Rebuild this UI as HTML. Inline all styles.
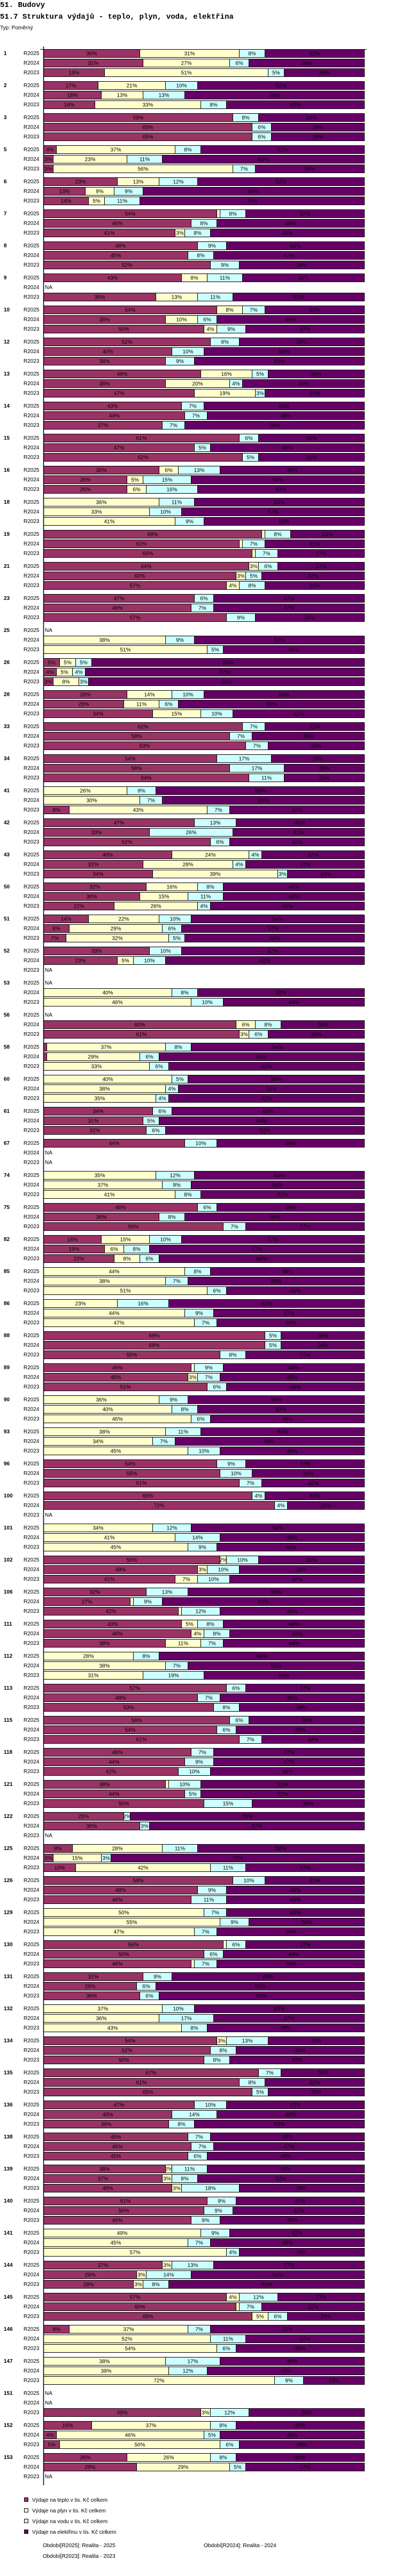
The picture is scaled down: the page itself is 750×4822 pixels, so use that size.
<!DOCTYPE html>
<html><head><meta charset="utf-8">
<style>
html,body{margin:0;padding:0;background:#fff;}
svg{display:block;}
text{font-family:"Liberation Sans",sans-serif;}
</style></head>
<body>
<svg id="chart" xmlns="http://www.w3.org/2000/svg" width="750" height="4822" viewBox="0 0 750 4822">
<text x="0" y="13" style="font-family:'Liberation Mono',monospace;font-weight:bold;font-size:14px">51. Budovy</text>
<text x="0" y="35" style="font-family:'Liberation Mono',monospace;font-weight:bold;font-size:14px">51.7 Struktura výdajů - teplo, plyn, voda, elektřina</text>
<text x="0" y="55" font-size="10">Typ: Poměrný</text>
<g id="bars"></g>
<line x1="81.5" y1="87" x2="81.5" y2="4652" stroke="#000" stroke-width="1.5"/>
<line x1="75" y1="92.5" x2="686" y2="92.5" stroke="#000" stroke-width="1"/>
<g font-size="10">
<rect x="45.5" y="4675.5" width="7" height="7" fill="#993366" stroke="#000"/>
<text x="60" y="4683">Výdaje na teplo v tis. Kč celkem</text>
<rect x="45.5" y="4695.5" width="7" height="7" fill="#FFFFCC" stroke="#000"/>
<text x="60" y="4703">Výdaje na plyn v tis. Kč celkem</text>
<rect x="45.5" y="4715.5" width="7" height="7" fill="#CCFFFF" stroke="#000"/>
<text x="60" y="4723">Výdaje na vodu v tis. Kč celkem</text>
<rect x="45.5" y="4735.5" width="7" height="7" fill="#660066" stroke="#000"/>
<text x="60" y="4743">Výdaje na elektřinu v tis. Kč celkem</text>
<text x="80" y="4768">Období[R2025]: Realita - 2025</text>
<text x="381" y="4768">Období[R2024]: Realita - 2024</text>
<text x="80" y="4788">Období[R2023]: Realita - 2023</text>
</g>
</svg>
<script>
const _ = null;
const categories = [1,2,3,5,6,7,8,9,10,12,13,14,15,16,18,19,21,23,25,26,28,33,34,41,42,43,50,51,52,53,56,58,60,61,67,74,75,82,85,86,88,89,90,93,96,100,101,102,106,111,112,113,115,118,121,122,125,126,129,130,131,132,134,135,136,138,139,140,141,144,145,146,147,151,152,153];
const periods = ["R2025","R2024","R2023"];
const teplo = [[30,31,19],[17,18,16],[59,65,65],[4,3,3],[23,13,14],[54,46,41],[48,45,52],[43,_,35],[54,38,50],[52,40,38],[49,38,47],[43,44,37],[61,47,62],[36,26,26],[0,0,0],[68,61,65],[64,60,57],[47,46,57],[_,0,0],[5,4,3],[26,25,34],[62,58,63],[54,58,64],[0,0,8],[47,33,52],[40,31,34],[32,30,22],[14,8,7],[33,23,_],[_,0,0],[_,60,61],[1,1,0],[0,0,0],[34,31,32],[44,_,_],[0,0,0],[48,36,56],[18,19,22],[0,0,0],[0,0,0],[69,69,55],[46,45,51],[0,0,0],[0,0,0],[54,55,61],[65,72,_],[0,0,0],[55,48,41],[32,27,42],[43,46,38],[0,0,0],[57,48,53],[58,54,61],[46,44,42],[38,44,50],[25,30,_],[9,3,10],[59,48,46],[0,0,0],[56,50,46],[31,29,30],[0,0,0],[54,52,50],[67,61,65],[47,40,39],[45,46,45],[38,37,40],[51,50,46],[0,0,0],[37,29,28],[57,60,65],[8,0,0],[0,0,0],[_,_,49],[15,4,5],[26,29,_]];
const plyn = [[31,27,51],[21,13,33],[0,0,0],[37,23,56],[13,9,5],[1,0,3],[0,0,0],[8,_,13],[8,10,4],[0,0,0],[16,20,19],[0,0,0],[0,0,0],[6,5,6],[36,33,41],[1,1,1],[3,3,4],[0,0,0],[_,38,51],[5,5,8],[14,11,15],[0,0,0],[0,0,0],[26,30,43],[0,0,0],[24,28,39],[16,15,26],[22,29,32],[0,5,_],[_,40,46],[_,6,3],[37,29,33],[40,38,35],[0,0,0],[0,_,_],[35,37,41],[0,0,0],[15,6,8],[44,38,51],[23,44,47],[0,0,0],[1,3,0],[36,40,46],[38,34,45],[0,0,0],[0,0,_],[34,41,45],[2,3,7],[0,1,1],[5,4,11],[28,38,31],[0,0,0],[0,0,0],[0,0,0],[1,0,0],[0,0,_],[28,15,42],[0,0,0],[50,55,47],[1,0,1],[0,0,0],[37,36,43],[3,0,0],[0,0,0],[0,0,0],[0,0,0],[2,3,3],[0,0,0],[49,45,57],[3,3,3],[4,1,5],[37,52,54],[38,39,72],[_,_,3],[37,46,50],[26,29,_]];
const voda = [[8,6,5],[10,13,8],[8,6,6],[8,11,7],[12,9,11],[8,8,8],[9,8,9],[11,_,11],[7,6,9],[9,10,9],[5,4,3],[7,7,7],[6,5,5],[13,15,16],[11,10,9],[8,7,7],[6,5,8],[6,7,9],[_,9,5],[5,4,3],[10,6,10],[7,7,7],[17,17,11],[9,7,7],[13,26,6],[4,4,3],[8,11,4],[10,6,5],[10,10,_],[_,8,10],[_,8,6],[8,6,6],[5,4,4],[6,5,6],[10,_,_],[12,9,8],[6,8,7],[10,8,6],[8,7,6],[16,9,7],[5,5,8],[9,7,6],[9,8,6],[11,7,10],[9,10,7],[4,4,_],[12,14,9],[10,10,10],[13,9,12],[8,8,7],[8,7,19],[6,7,8],[6,6,7],[7,9,10],[10,5,15],[2,3,_],[11,3,11],[10,9,11],[7,9,7],[6,6,7],[9,6,6],[10,17,8],[13,8,8],[7,8,5],[10,14,8],[7,7,6],[11,8,18],[9,9,9],[9,7,4],[13,14,8],[12,7,6],[7,11,6],[17,12,9],[_,_,12],[8,5,6],[8,5,_]];
const elektrina = [[31,36,25],[52,56,43],[33,29,29],[51,63,34],[52,69,70],[37,46,48],[43,47,39],[38,_,41],[31,46,37],[39,50,53],[30,38,31],[50,49,56],[33,48,33],[45,54,52],[53,57,50],[23,31,27],[27,32,31],[47,47,34],[_,53,44],[85,87,86],[50,58,41],[31,35,30],[29,25,25],[65,63,42],[40,41,42],[32,37,24],[44,44,48],[54,57,56],[57,62,_],[_,52,44],[_,26,30],[54,64,61],[55,58,61],[60,64,62],[46,_,_],[53,54,51],[46,56,37],[57,67,64],[48,55,43],[61,47,46],[26,26,37],[44,45,43],[55,52,48],[51,59,45],[37,35,32],[31,24,_],[54,45,46],[33,39,42],[55,63,45],[44,42,44],[64,55,50],[37,45,39],[36,40,32],[47,47,48],[51,51,35],[73,67,_],[52,79,37],[31,43,43],[43,36,46],[37,44,46],[60,65,64],[53,47,49],[30,40,42],[26,31,30],[43,46,53],[48,47,49],[49,52,39],[40,41,45],[42,48,39],[47,54,61],[27,32,24],[48,37,40],[45,49,19],[_,_,36],[40,45,39],[40,37,_]];

const seriesList = [teplo, plyn, voda, elektrina];
const seriesNames = ["teplo","plyn","voda","elektrina"];
const colors = ["#993366","#FFFFCC","#CCFFFF","#660066"];
const X0 = 81, XW = 600, Y0 = 92, GROUP_H = 60, ROW_H = 18, BAR_H = 15;
const NS = "http://www.w3.org/2000/svg";
const g = document.getElementById('bars');
function xScale(frac){ return X0 + frac * XW; }
function yRow(gi, ri){ return Y0 + gi * GROUP_H + ri * ROW_H; }
function mk(tag, attrs){ const e = document.createElementNS(NS, tag); for (const k in attrs) e.setAttribute(k, attrs[k]); return e; }

categories.forEach((cat, gi) => {
  const gl = mk('text', {x: 7, y: yRow(gi,0) + 11, 'font-size': 10, 'font-weight': 'bold'});
  
  
  gl.textContent = cat;
  g.appendChild(gl);
  periods.forEach((per, ri) => {
    const y = yRow(gi, ri);
    const pl = mk('text', {x: 44, y: y + 11, 'font-size': 10});
    
    
    pl.textContent = per;
    g.appendChild(pl);
    const vals = seriesList.map(s => s[gi][ri]);
    if (vals[0] === null) {
      const na = mk('text', {x: 84, y: y + 11, 'font-size': 10});
      
      
      na.textContent = 'NA';
      g.appendChild(na);
      return;
    }
    const total = vals.reduce((a,b) => a + b, 0);
    let cum = 0;
    vals.forEach((v, si) => {
      if (!v) return;
      const xa = xScale(cum / total), xb = xScale((cum + v) / total);
      cum += v;
      const r = mk('rect', {x: xa + 0.5, y: y + 0.5, width: Math.max(xb - xa, 0.5), height: BAR_H, fill: colors[si], stroke: '#000', 'stroke-width': 1});
      
      
      g.appendChild(r);
      if (xb - xa >= 11) {
        const t = mk('text', {x: (xa + xb) / 2 + 0.5, y: y + 11.5, 'font-size': 10, 'text-anchor': 'middle', fill: '#000'});
        
        
        t.textContent = v + '%';
        g.appendChild(t);
      }
    });
  });
});
</script>
</body></html>
